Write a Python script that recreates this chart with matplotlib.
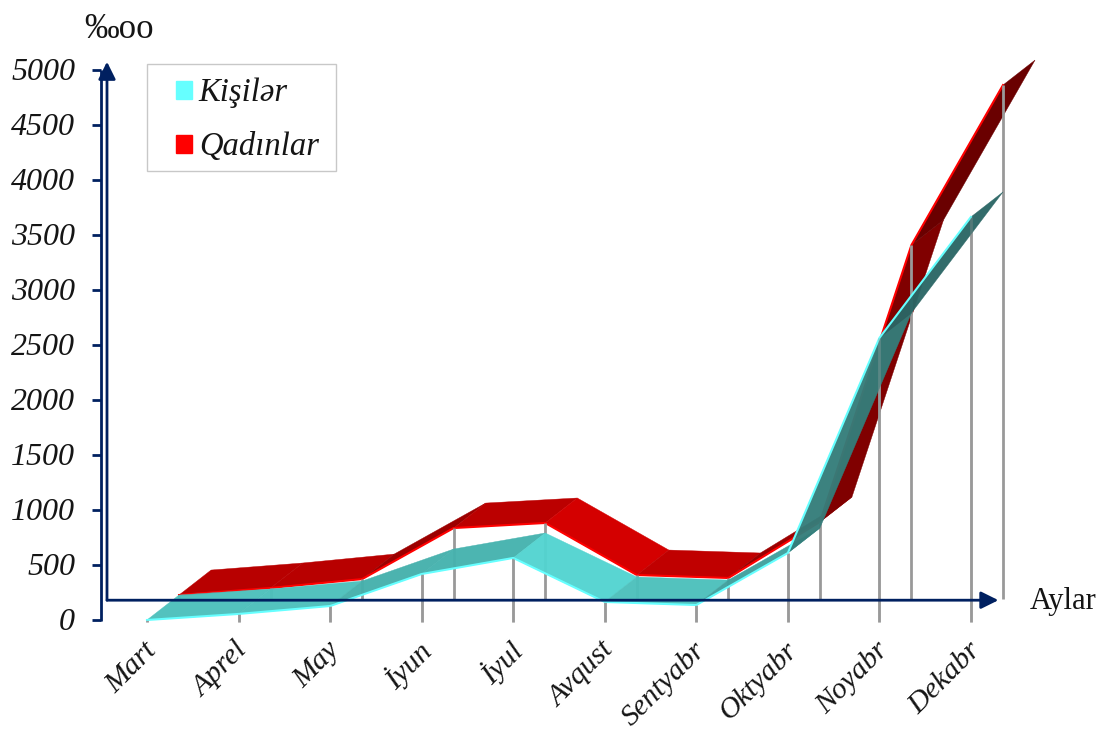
import matplotlib
matplotlib.use("Agg")
import matplotlib.pyplot as plt
from matplotlib.patches import Patch, Polygon, Rectangle

plt.rcParams["font.family"] = ["Liberation Serif", "DejaVu Serif"]

months = ["Mart", "Aprel", "May", "İyun", "İyul", "Avqust", "Sentyabr", "Oktyabr", "Noyabr", "Dekabr"]
kisiler = [0, 55, 127, 418, 564, 164, 136, 609, 2564, 3664]
qadinlar = [0, 64, 145, 609, 655, 182, 155, 664, 3182, 4636]
y_ticks = [0, 500, 1000, 1500, 2000, 2500, 3000, 3500, 4000, 4500, 5000]

# shading of each ribbon segment, the steeper the darker
kisi_shades = ["#4cc0bc", "#4cc0bc", "#45b0ac", "#45b2ae", "#52d4d0", "#4cc0bc", "#3f9f9c", "#347d7a", "#2a6665"]
qadin_shades = ["#b80000", "#b80000", "#9c0000", "#bb0000", "#d40000", "#c00000", "#9c0000", "#800000", "#6a0000"]

NAVY = "#002060"
GRAY = "#999999"
INK = "#151515"

# depth of one series in the fake 3d view, category / value units
DX = 0.35
DY = 227
FLOOR = 180

W, H = 1102, 729
X0, XSTEP = 147, 91.55
Y0, YSCALE = 620, 0.11


def ribbon(ax, vals, k, shades, edge, z, alpha=1.0):
    for i, shade in enumerate(shades):
        pts = [
            (i + k * DX, vals[i] + k * DY),
            (i + 1 + k * DX, vals[i + 1] + k * DY),
            (i + 1 + (k + 1) * DX, vals[i + 1] + (k + 1) * DY),
            (i + (k + 1) * DX, vals[i] + (k + 1) * DY),
        ]
        ax.add_patch(Polygon(pts, closed=True, fc=shade, ec=shade, lw=0.3, alpha=alpha, zorder=z))
    xs = [i + k * DX for i in range(len(vals))]
    ys = [v + k * DY for v in vals]
    ax.plot(xs, ys, color=edge, lw=1.5, zorder=z + 0.1, solid_joinstyle="miter")


fig = plt.figure(figsize=(W / 100, H / 100), dpi=100)
ax = fig.add_axes([0, 0, 1, 1])
ax.set_xlim(-X0 / XSTEP, (W - X0) / XSTEP)
ax.set_ylim((Y0 - H) / YSCALE, Y0 / YSCALE)
ax.axis("off")

# back series first, drop lines go on top of it
ribbon(ax, qadinlar, 1, qadin_shades, "#ff0000", 2)
for i, v in enumerate(qadinlar):
    ax.plot([i + DX, i + DX], [FLOOR + 12, v + DY], color=GRAY, lw=2.0, zorder=3, solid_capstyle="butt")

ribbon(ax, kisiler, 0, kisi_shades, "#66ffff", 4, alpha=0.96)
for i, v in enumerate(kisiler):
    ax.plot([i, i], [-20, v], color=GRAY, lw=2.0, zorder=3.5, solid_capstyle="butt")
    ax.plot([i, i], [-20, v], color=GRAY, lw=2.0, alpha=0.35, zorder=4.2, solid_capstyle="butt")

# axes
ax_left = -0.503
ax_right = -0.437
ax.plot([ax_left, ax_left], [-10, 5000], color=NAVY, lw=2, zorder=6, solid_capstyle="butt")
for t in y_ticks:
    ax.plot([ax_left - 0.1, ax_left], [t, t], color=NAVY, lw=2, zorder=6, solid_capstyle="butt")
    ax.text(-0.785, t - 22, str(t), ha="right", va="center", fontsize=23, style="italic", color=INK)

arrow = dict(arrowstyle="-|>,head_length=1.05,head_width=0.52", color=NAVY, lw=2, shrinkA=0, shrinkB=0)
ax.annotate("", xy=(ax_right, 5075), xytext=(ax_right, FLOOR), arrowprops=arrow, zorder=6)
ax.annotate("", xy=(9.30, FLOOR), xytext=(ax_right, FLOOR), arrowprops=arrow, zorder=6)

for i, m in enumerate(months):
    ax.text(i + 0.06, -240, m, rotation=45, rotation_mode="anchor", ha="right", va="center",
            fontsize=21.5, style="italic", color=INK)

ax.text(9.645, 165, "Aylar", ha="left", va="center", fontsize=22, color=INK)
ax.text(-0.68, 5370, "‰oo", ha="left", va="center", fontsize=25, color=INK)

# frame drawn apart from the legend, its left padding is wider than the top one
fig.add_artist(Rectangle((147 / W, 1 - 171 / H), 189 / W, 107 / H, transform=fig.transFigure,
                         fc="white", ec="#c8c8c8", lw=1, zorder=7))
handles = [Patch(fc="#66ffff", ec="#66ffff", label="Kişilər"), Patch(fc="#ff0000", ec="#ff0000", label="Qadınlar")]
leg = fig.legend(handles=handles, loc="upper left", bbox_to_anchor=(176 / W, 1 - 78 / H), bbox_transform=fig.transFigure,
                 prop=dict(family="Liberation Serif", style="italic", size=23.5), frameon=False,
                 handlelength=0.48, handleheight=0.48, handletextpad=0.22, labelspacing=0.72,
                 borderpad=0, borderaxespad=0, labelcolor=INK)
leg.set_zorder(8)

fig.savefig("out.png", dpi=100)
